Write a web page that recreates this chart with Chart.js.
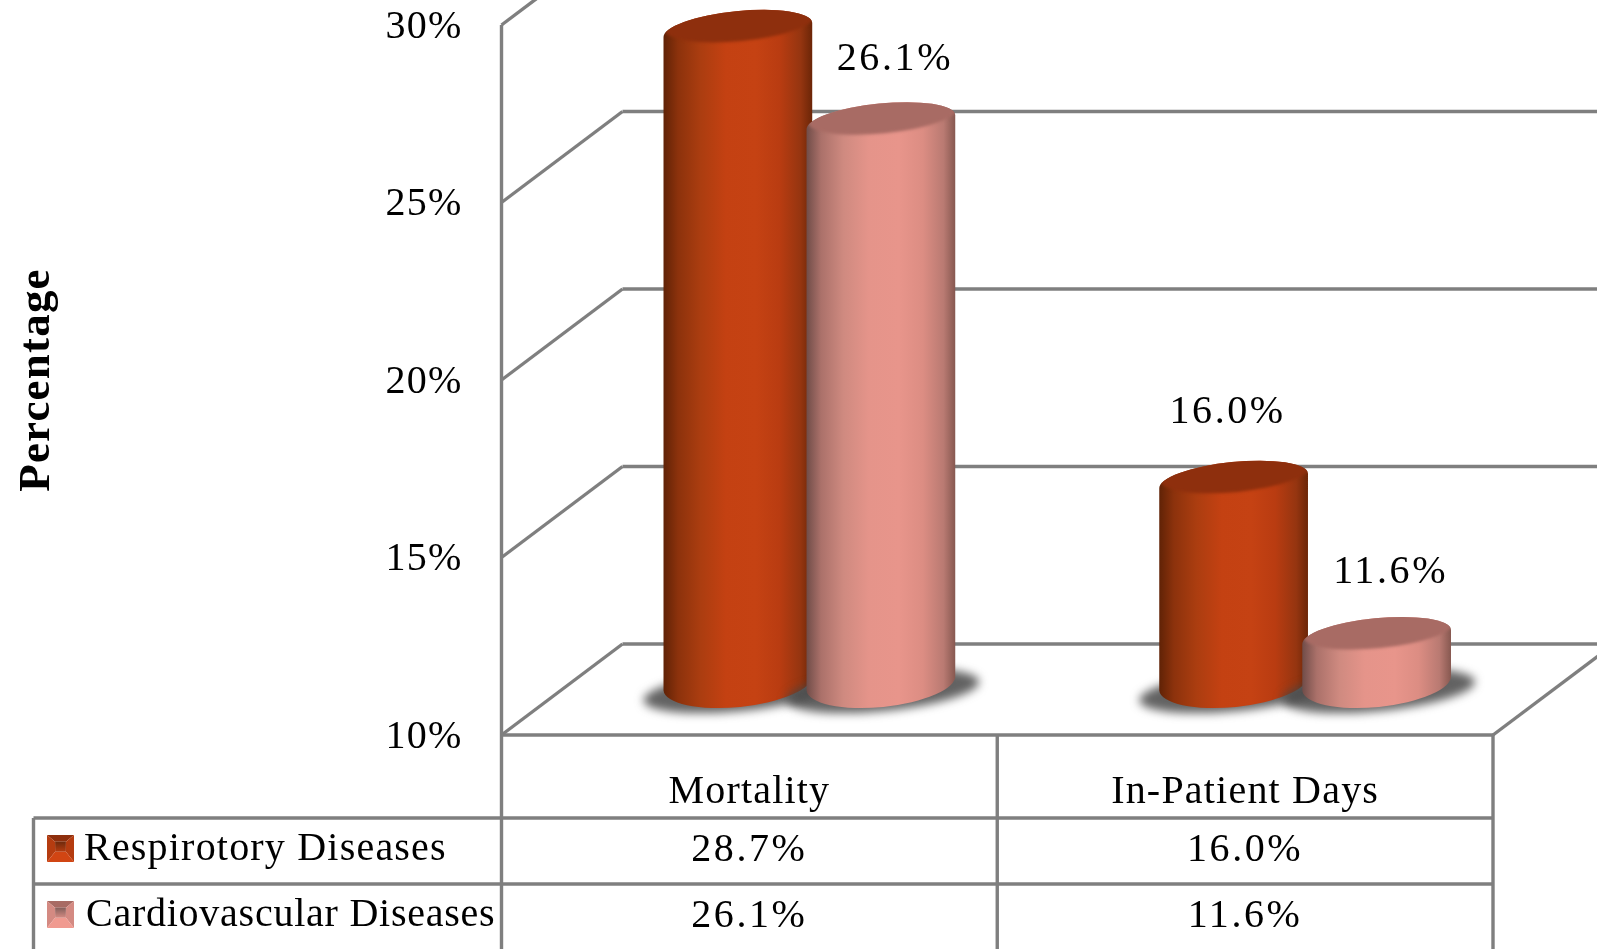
<!DOCTYPE html>
<html>
<head>
<meta charset="utf-8">
<title>Percentage by disease</title>
<script src="https://cdn.jsdelivr.net/npm/chart.js@4"></script>
<style>
    html, body { margin: 0; padding: 0; background: #fff; overflow: hidden; }
    canvas { display: block; }
</style>
</head>
<body>
<canvas id="myChart" width="1597" height="949"></canvas>
<script>
const categories = ['Mortality', 'In-Patient Days'];
const seriesNames = ['Respirotory Diseases', 'Cardiovascular Diseases'];
const respiratoryValues = [28.7, 16.0];
const cardiovascularValues = [26.1, 11.6];
const yMin = 10;
const yMax = 30;
const yStep = 5;

const FONT = '"Liberation Serif", serif';
const LINE = '#7f7f7f';

// oblique box depth of the 3D plot, bars sit about half way in
const DEPTH_X = 121;
const DEPTH_Y = 91;
const BAR_DX = 60;
const BAR_DY = 41;

const ROW_LINES = [818, 884];
const TABLE_LEFT = 33.5;
const ROW_TEXT_Y = [850, 916];
const LEGEND_TEXT_X = [84, 86];
const LEGEND_SPACING = ['1.2px', '0.75px'];

// value label nudges per series, then per category
const LABEL_DX = [-6, 14];
const LABEL_DY = [[-65, -69], [-63, -65]];

const palettes = [
    {
        body: ['#5f2206', '#8c320c', '#ab3d10', '#c44112', '#c54213', '#b93c11', '#953510', '#6a2507'],
        top: '#8e2f0d', key: ['#8e2f0d', '#b53c10', '#d14513', '#6f2a0c']
    },
    {
        body: ['#6f4c48', '#ab716a', '#cf8a80', '#e5948a', '#e8958b', '#dc8d83', '#b97a72', '#85574f'],
        top: '#a86b64', key: ['#a86b64', '#d48a82', '#f09a90', '#84605c']
    }
];

function cylinder(ctx, bar, floorY, palette) {
    const cx = bar.x + BAR_DX;
    const a = bar.width / 2;
    const topY = bar.y - BAR_DY;
    const baseY = floorY - BAR_DY;
    const rot = -0.1;

    // soft shadow on the floor
    ctx.save();
    ctx.filter = 'blur(5px)';
    ctx.fillStyle = 'rgba(70,70,70,0.85)';
    ctx.beginPath();
    ctx.ellipse(cx + 2, baseY - 3, a + 22, 20, rot, 0, Math.PI * 2);
    ctx.fill();
    ctx.restore();

    // body
    const grad = ctx.createLinearGradient(cx - a, 0, cx + a, 0);
    const stops = [0, 0.1, 0.25, 0.42, 0.62, 0.78, 0.92, 1];
    stops.forEach((s, i) => grad.addColorStop(s, palette.body[i]));
    ctx.fillStyle = grad;
    ctx.beginPath();
    ctx.ellipse(cx, baseY - 11, a, 24, rot, Math.PI, 0, true);
    ctx.ellipse(cx, topY, a, 19, rot, 0, Math.PI, true);
    ctx.closePath();
    ctx.fill();

    // top cap, the body shade shows as a rim along the front edge
    ctx.save();
    ctx.beginPath();
    ctx.ellipse(cx, topY, a, 19, rot, 0, Math.PI * 2);
    ctx.clip();
    ctx.filter = 'blur(1.5px)';
    ctx.fillStyle = palette.top;
    ctx.beginPath();
    ctx.ellipse(cx + 2, topY - 8, a + 1, 19, rot, 0, Math.PI * 2);
    ctx.fill();
    ctx.restore();
}

function legendKey(ctx, x, y, s, colors) {
    const side = (pts, color) => {
        ctx.fillStyle = color;
        ctx.beginPath();
        pts.forEach((p, n) => n ? ctx.lineTo(x + p[0] * s, y + p[1] * s) : ctx.moveTo(x + p[0] * s, y + p[1] * s));
        ctx.closePath();
        ctx.fill();
    };
    side([[0, 0], [1, 0], [0.7, 0.25], [0.3, 0.25]], colors[0]);
    side([[0, 0], [0.3, 0.25], [0.3, 0.62], [0, 1]], colors[1]);
    side([[1, 0], [0.7, 0.25], [0.7, 0.62], [1, 1]], colors[1]);
    side([[0, 1], [0.3, 0.62], [0.7, 0.62], [1, 1]], colors[2]);
    const inner = ctx.createLinearGradient(0, y + 0.25 * s, 0, y + 0.62 * s);
    inner.addColorStop(0, colors[3]);
    inner.addColorStop(1, colors[1]);
    ctx.fillStyle = inner;
    ctx.fillRect(x + 0.3 * s, y + 0.25 * s, 0.4 * s, 0.37 * s);
}

function strokeLine(ctx, x1, y1, x2, y2) {
    ctx.beginPath();
    ctx.moveTo(x1, y1);
    ctx.lineTo(x2, y2);
    ctx.stroke();
}

const box3d = {
    id: 'box3d',
    beforeDraw(chart) {
        chart.ctx.letterSpacing = '1.2px';
    },
    beforeDatasetsDraw(chart) {
        const { ctx, chartArea: area, scales } = chart;
        ctx.save();
        ctx.strokeStyle = LINE;
        ctx.lineWidth = 3.4;
        // back wall and side wall lines for each tick
        scales.y.ticks.forEach((tick) => {
            const y = scales.y.getPixelForValue(tick.value);
            strokeLine(ctx, area.left, y, area.left + DEPTH_X, y - DEPTH_Y);
            strokeLine(ctx, area.left + DEPTH_X, y - DEPTH_Y, area.right + DEPTH_X, y - DEPTH_Y);
        });
        // floor right edge
        strokeLine(ctx, area.right, area.bottom, area.right + DEPTH_X, area.bottom - DEPTH_Y);
        // axis line, runs on down as the first table column
        strokeLine(ctx, area.left, area.top, area.left, chart.height);
        ctx.restore();

        // shadows and cylinders, left to right
        chart.data.datasets.forEach((ds, d) => {
            chart.getDatasetMeta(d).data.forEach((bar) => cylinder(ctx, bar, area.bottom, palettes[d]));
        });
    },
    afterDatasetsDraw(chart) {
        const { ctx, chartArea: area, scales } = chart;

        // data table under the plot
        ctx.save();
        ctx.strokeStyle = LINE;
        ctx.lineWidth = 3.4;
        strokeLine(ctx, area.left, area.bottom, area.right, area.bottom);
        ROW_LINES.forEach((y) => strokeLine(ctx, TABLE_LEFT, y, area.right, y));
        strokeLine(ctx, TABLE_LEFT, ROW_LINES[0], TABLE_LEFT, chart.height);
        strokeLine(ctx, (area.left + area.right) / 2, area.bottom, (area.left + area.right) / 2, chart.height);
        strokeLine(ctx, area.right, area.bottom, area.right, chart.height);

        ctx.font = '40px ' + FONT;
        ctx.textAlign = 'center';
        ctx.textBaseline = 'middle';
        chart.data.datasets.forEach((ds, d) => {
            legendKey(ctx, 47, ROW_TEXT_Y[d] - 15, 27, palettes[d].key);
            ctx.fillStyle = '#000';
            ctx.letterSpacing = '2.6px';
            ds.data.forEach((v, i) => {
                ctx.fillText(v.toFixed(1) + '%', scales.x.getPixelForTick(i), ROW_TEXT_Y[d]);
                const bar = chart.getDatasetMeta(d).data[i];
                ctx.fillText(v.toFixed(1) + '%', bar.x + BAR_DX + LABEL_DX[d], bar.y - BAR_DY + LABEL_DY[d][i]);
            });
            ctx.textAlign = 'left';
            ctx.letterSpacing = LEGEND_SPACING[d];
            ctx.fillText(ds.label, LEGEND_TEXT_X[d], ROW_TEXT_Y[d] - 1);
            ctx.textAlign = 'center';
        });
        ctx.restore();
    }
};

const config = {
    type: 'bar',
    data: {
        labels: categories,
        datasets: [
            { label: seriesNames[0], data: respiratoryValues, backgroundColor: 'transparent' },
            { label: seriesNames[1], data: cardiovascularValues, backgroundColor: 'transparent' }
        ]
    },
    options: {
        responsive: false,
        animation: false,
        categoryPercentage: 0.577,
        barPercentage: 1.045,
        layout: { padding: { top: 25, right: 104, bottom: 0, left: 0 } },
        plugins: {
            legend: { display: false },
            tooltip: { enabled: false }
        },
        scales: {
            x: {
                afterFit: (scale) => { scale.height = 214; },
                grid: { display: false, drawTicks: false },
                border: { display: false },
                ticks: {
                    color: '#000',
                    padding: 33,
                    maxRotation: 0,
                    autoSkip: false,
                    font: { family: FONT, size: 40 }
                }
            },
            y: {
                min: yMin,
                max: yMax,
                afterFit: (scale) => {
                    scale.width = 501.5;
                    scale.paddingTop = 0;
                    scale.paddingBottom = 0;
                },
                grid: { display: false, drawTicks: false },
                border: { display: false },
                title: {
                    display: true,
                    text: 'Percentage',
                    color: '#000',
                    padding: { top: 10, bottom: 0 },
                    font: { family: FONT, size: 45, weight: 'bold' }
                },
                ticks: {
                    stepSize: yStep,
                    color: '#000',
                    padding: 39,
                    labelOffset: 2,
                    font: { family: FONT, size: 40 },
                    callback: (value) => value + '%'
                }
            }
        }
    },
    plugins: [box3d]
};

const myChart = new Chart(document.getElementById('myChart'), config);
</script>
</body>
</html>
